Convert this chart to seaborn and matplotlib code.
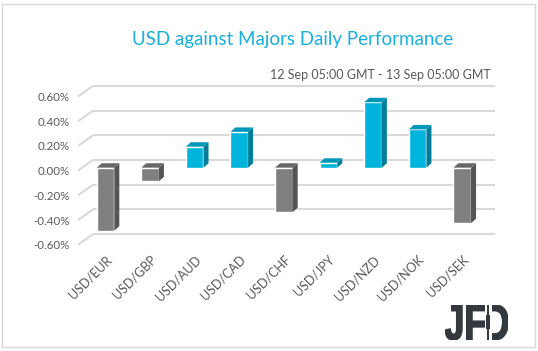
import matplotlib
matplotlib.use("Agg")
import matplotlib.pyplot as plt
import seaborn as sns
from matplotlib.patches import Polygon, Rectangle, PathPatch
from matplotlib.textpath import TextPath
from matplotlib.font_manager import FontProperties

# --- DADOS ---
pairs = ["USD/EUR", "USD/GBP", "USD/AUD", "USD/CAD", "USD/CHF",
         "USD/JPY", "USD/NZD", "USD/NOK", "USD/SEK"]
changes = [-0.51, -0.11, 0.17, 0.29, -0.36, 0.04, 0.53, 0.31, -0.45]
y_ticks = [-0.60, -0.40, -0.20, 0.00, 0.20, 0.40, 0.60]
title = "USD against Majors Daily Performance"
subtitle = "12 Sep 05:00 GMT - 13 Sep 05:00 GMT"

# --- ESTILO ---
POS = {"front": "#00b4dc", "side": "#007d99", "top": "#0097ba"}
NEG = {"front": "#7f7f7f", "side": "#555555", "top": "#686868"}
GRID = "#d9d9d9"
TXT = "#595959"
LOGO = "#33393f"

# profundidade "3D" em unidades de dados
DX, DY = 0.112, 0.036          # lado/topo das barras
WALL_DX, WALL_UP, WALL_DOWN = 0.336, 0.062, 0.024   # parede do fundo
X_MIN, X_MAX = -0.617, 8.735

sns.set_style("white")
plt.rcParams["font.family"] = ["Lato", "DejaVu Sans"]

fig = plt.figure(figsize=(5.38, 3.51), dpi=100)
ax = fig.add_axes([78 / 538, 0.2584, 417 / 538, 0.5278])

colors = [POS["front"] if v >= 0 else NEG["front"] for v in changes]
sns.barplot(x=pairs, y=changes, hue=pairs, palette=colors, width=0.395,
            legend=False, saturation=1, ax=ax, zorder=3)

# grade na parede do fundo + parede lateral inclinada
for v in y_ticks:
    ax.plot([X_MIN, X_MIN + WALL_DX], [v - WALL_DOWN, v + WALL_UP],
            color=GRID, lw=1.5, zorder=1, solid_capstyle="butt")
    ax.plot([X_MIN + WALL_DX, X_MAX], [v + WALL_UP, v + WALL_UP],
            color=GRID, lw=1.5, zorder=1, solid_capstyle="butt")

# faces lateral e superior das barras
for patch, v in zip(ax.patches, changes):
    pal = POS if v >= 0 else NEG
    x0 = patch.get_x()
    x1 = x0 + patch.get_width()
    lo, hi = min(0, v), max(0, v)
    side = Polygon([(x1, lo), (x1 + DX, lo + DY), (x1 + DX, hi + DY), (x1, hi)],
                   closed=True, facecolor=pal["side"], edgecolor="none", zorder=3)
    top = Polygon([(x0, hi), (x0 + DX, hi + DY), (x1 + DX, hi + DY), (x1, hi)],
                  closed=True, facecolor=pal["top"], edgecolor="none", zorder=3)
    ax.add_patch(side)
    ax.add_patch(top)

ax.set_xlim(X_MIN, X_MAX)
ax.set_ylim(-0.75, 0.75)
ax.set_yticks([v - WALL_DOWN for v in y_ticks],
              [f"{v:.2f}%" for v in y_ticks])
ax.set_xticks(range(len(pairs)))
ax.set_xticklabels(pairs, rotation=45, ha="right", rotation_mode="anchor")
ax.tick_params(axis="y", length=0, pad=6, labelsize=8.3, labelcolor=TXT)
ax.tick_params(axis="x", length=0, pad=-5, labelsize=9, labelcolor=TXT)
ax.set_xlabel("")
ax.set_ylabel("")
for s in ax.spines.values():
    s.set_visible(False)
ax.patch.set_alpha(0)

# títulos
fig.text(293 / 538, 1 - 39 / 351, title, ha="center", va="center",
         fontsize=13.5, color="#1aafdc")
fig.text(491 / 538, 1 - 75 / 351, subtitle, ha="right", va="center",
         fontsize=9, color=TXT)

# logo JFD (texto em caminho, esticado para caber na caixa)
lax = fig.add_axes([445 / 538, 1 - 340 / 351, 63 / 538, 35 / 351])
lax.axis("off")
fp = FontProperties(family="Liberation Sans", weight="bold")
jf = TextPath((0, 0), "JF", size=1, prop=fp)
d = TextPath((0, 0), "D", size=1, prop=fp)
jf_ext = jf.get_extents()
d_ext = d.get_extents()
gap = 0.03
shift = jf_ext.x1 + gap - d_ext.x0
d = TextPath((shift, 0), "D", size=1, prop=fp)
lax.add_patch(PathPatch(jf, facecolor=LOGO, edgecolor=LOGO, lw=1.2))
lax.add_patch(PathPatch(d, facecolor=LOGO, edgecolor=LOGO, lw=1.2))
d_ext = d.get_extents()
stem_w = 0.17 * d_ext.width
# vela no lugar da haste do D
lax.add_patch(Rectangle((d_ext.x0 - 0.03, d_ext.y0 - 0.05), stem_w + 0.08,
                        d_ext.height + 0.1, facecolor="white", edgecolor="none"))
cx = d_ext.x0 + stem_w * 0.5
lax.plot([cx, cx], [d_ext.y0, d_ext.y1], color=LOGO, lw=1.4)
lax.add_patch(Rectangle((cx - stem_w * 0.5, d_ext.y0 + d_ext.height * 0.3),
                        stem_w, d_ext.height * 0.4,
                        facecolor=LOGO, edgecolor="none"))
lax.set_xlim(jf_ext.x0, d_ext.x1)
lax.set_ylim(min(jf_ext.y0, d_ext.y0), d_ext.y1)

# borda
fig.patches.append(Rectangle((2 / 538, 4 / 351), 533 / 538, 343 / 351,
                             transform=fig.transFigure, fill=False,
                             edgecolor="#d9d9d9", lw=1))

fig.savefig("out.png", dpi=100)
